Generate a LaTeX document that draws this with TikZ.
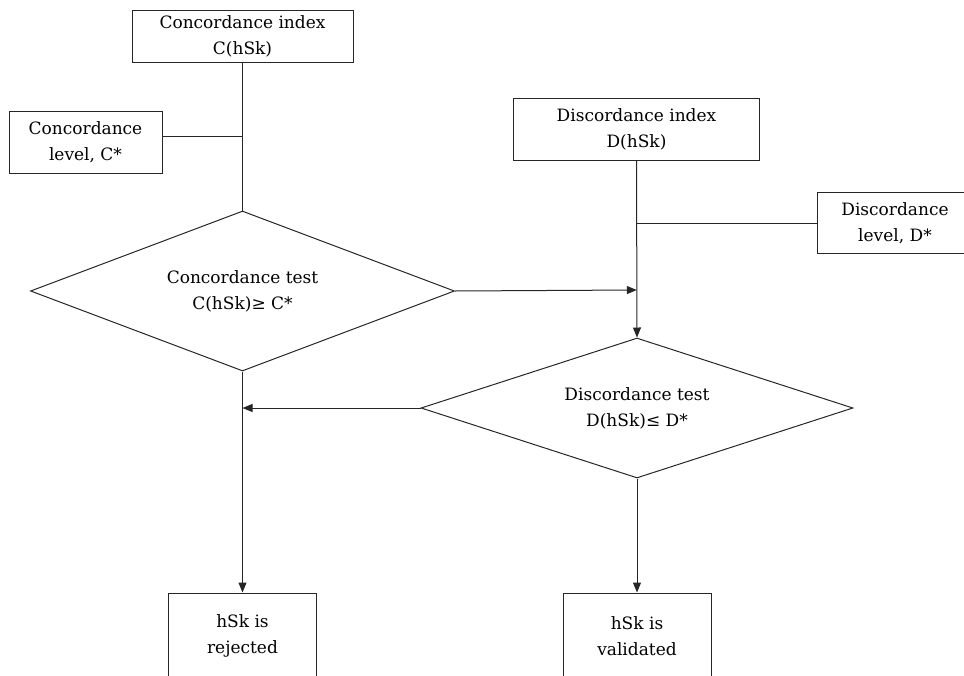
\documentclass[tikz,border=0pt]{standalone}
\usepackage{fontspec}
\setmainfont{DejaVu Serif}
\usetikzlibrary{shapes.geometric,arrows.meta}
\begin{document}
\begin{tikzpicture}[x=1pt,y=-1pt,
  every node/.style={font=\fontsize{17}{26}\selectfont, align=center, text=black},
  box/.style={draw=black!85, line width=1pt, rectangle, inner sep=0pt},
  test/.style={draw=black!85, line width=1pt, diamond, inner sep=0pt, aspect=2.7},
  link/.style={draw=black!85, line width=1pt},
  flow/.style={link, -{Triangle[length=10pt,width=8pt]}}]
\useasboundingbox (0,0) rectangle (964,675);
\clip (0,0) rectangle (964,675);

% boxes
\node[box, minimum width=221pt, minimum height=52pt] (cindex) at (242.5,36) {Concordance index\\C(hSk)};
\node[box, minimum width=153pt, minimum height=62pt] (clevel) at (85.5,142.5) {Concordance\\level, C*};
\node[box, minimum width=246pt, minimum height=62pt] (dindex) at (636.5,129) {Discordance index\\D(hSk)};
\node[box, minimum width=156pt, minimum height=61pt] (dlevel) at (895,223) {Discordance\\level, D*};
\node[box, minimum width=148pt, minimum height=86pt] (reject) at (242.5,636) {hSk is\\rejected};
\node[box, minimum width=148pt, minimum height=86pt] (valid) at (637,636) {hSk is\\validated};

% decision diamonds
\node[test, minimum width=424pt, minimum height=160pt] (ctest) at (242.5,291) {Concordance test\\C(hSk)≥ C*};
\node[test, minimum width=432pt, minimum height=140pt] (dtest) at (637,408) {Discordance test\\D(hSk)≤ D*};

% junction points
\coordinate (cj) at (242.5,136);
\coordinate (dj) at (636.8,223);
\coordinate (dm) at (636.8,290);
\coordinate (cm) at (242.5,408);

% connectors
\draw[link] (cindex.south) -- (ctest.north);
\draw[link] (clevel.east |- cj) -- (cj);
\draw[link] (dlevel.west) -- (dj);
\draw[flow] (dindex.south) -- (dtest.north);
\draw[flow] (ctest.east) -- (dm);
\draw[flow] (dtest.west) -- (cm);
\draw[flow] (ctest.south) -- (reject.north);
\draw[flow] (dtest.south) -- (valid.north);
\end{tikzpicture}
\end{document}
